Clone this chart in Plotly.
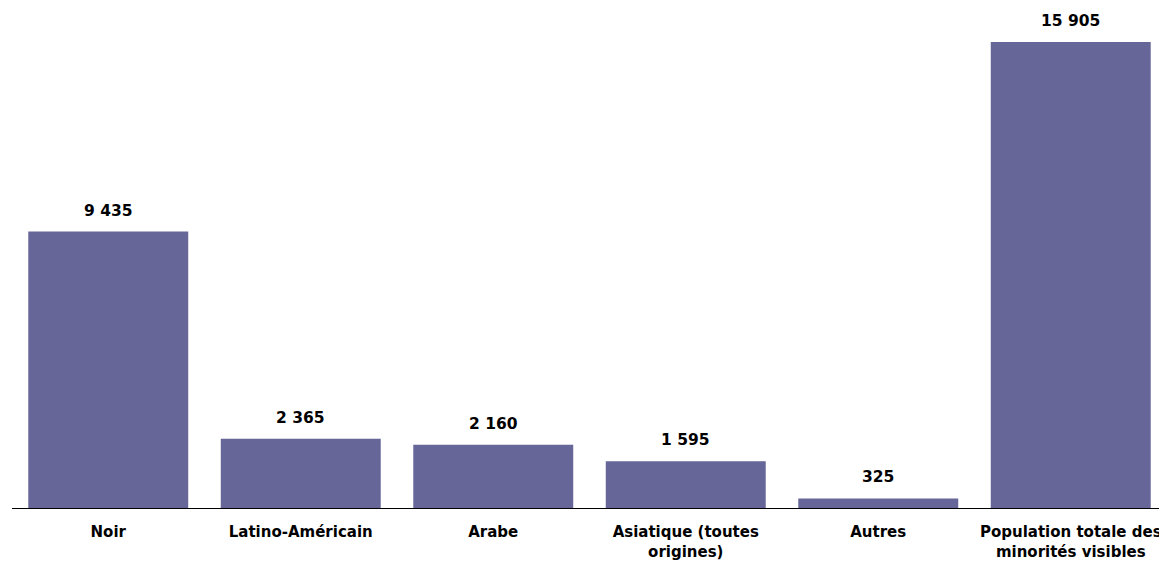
import plotly.graph_objects as go

categories = ["Noir", "Latino-Américain", "Arabe", "Asiatique (toutes<br>origines)", "Autres",
              "Population totale des<br>minorités visibles"]
values = [9435, 2365, 2160, 1595, 325, 15905]

bar_color = "#666699"
font_family = "DejaVu Sans"

def fmt(v):
    return f"{v:,}".replace(",", " ")

fig = go.Figure()
fig.add_trace(go.Bar(x=categories, y=values, marker=dict(color=bar_color, line=dict(width=0)),
                     hoverinfo="skip"))

for c, v in zip(categories, values):
    fig.add_annotation(x=c, y=v, text=fmt(v), showarrow=False, yanchor="middle", yshift=21,
                       font=dict(family=font_family, size=15.5, color="#000000", weight="bold"))

fig.update_layout(
    width=1167, height=561,
    margin=dict(l=4, r=8, t=2, b=61),
    paper_bgcolor="white", plot_bgcolor="white",
    bargap=0.169,
    showlegend=False,
    font=dict(family=font_family, size=15, color="#000000", weight="bold"),
    xaxis=dict(showline=True, linecolor="#000000", linewidth=1, ticks="", showgrid=False,
               zeroline=False, ticklabelstandoff=10,
               tickfont=dict(family=font_family, size=15, color="#000000", weight="bold")),
    yaxis=dict(range=[0, 17000], visible=False, showgrid=False, zeroline=False),
)

fig.write_html("out.html")
